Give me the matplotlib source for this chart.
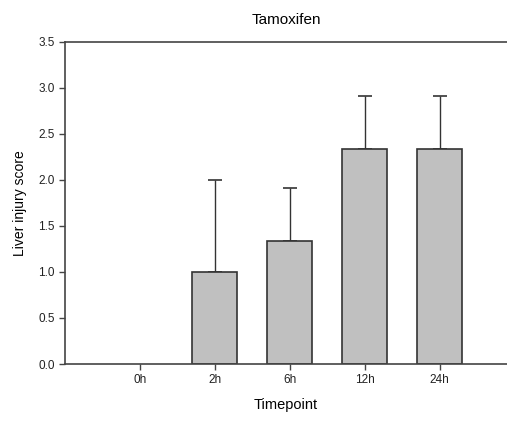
import matplotlib
matplotlib.use("Agg")
import matplotlib.pyplot as plt

categories = ["0h", "2h", "6h", "12h", "24h"]
values = [0.0, 1.0, 1.333, 2.333, 2.333]
errors = [0.0, 1.0, 0.577, 0.577, 0.577]
yticks = [0.0, 0.5, 1.0, 1.5, 2.0, 2.5, 3.0, 3.5]

plt.rcParams['font.family'] = ['Liberation Sans', 'DejaVu Sans']
fig = plt.figure(figsize=(5.07, 4.23), dpi=100)
ax = fig.add_axes([65/507, (423-364)/423, (507-65)/507, (364-42)/423])

x = list(range(len(categories)))
lws = [1.2 if v > 0 else 0 for v in values]
ax.bar(x, values, width=0.6, color="#c0c0c0", edgecolor="#333333", linewidth=lws, zorder=2)
ax.errorbar(x[1:], values[1:], yerr=[[0]*4, errors[1:]], fmt="none", ecolor="#333333",
            elinewidth=1.0, capsize=5, capthick=1.2, zorder=1)

ax.set_xlim(-1, 4.9)
ax.set_ylim(0, 3.5)
ax.set_xticks(x)
ax.set_xticklabels(categories, fontsize=8.5)
ax.set_yticks(yticks)
ax.set_yticklabels([f"{v:.1f}" for v in yticks], fontsize=8.5)
ax.spines['right'].set_visible(False)
for s in ['left', 'bottom', 'top']:
    ax.spines[s].set_color("#444444")
    ax.spines[s].set_linewidth(1.2)
ax.tick_params(direction='out', length=4, width=1, color="#444444", labelcolor="#222222")
ax.set_xlabel("Timepoint", fontsize=10.5, labelpad=8)
ax.set_ylabel("Liver injury score", fontsize=10, labelpad=8)
ax.set_title("Tamoxifen", fontsize=11, pad=13)

fig.savefig("out.png", dpi=100)
